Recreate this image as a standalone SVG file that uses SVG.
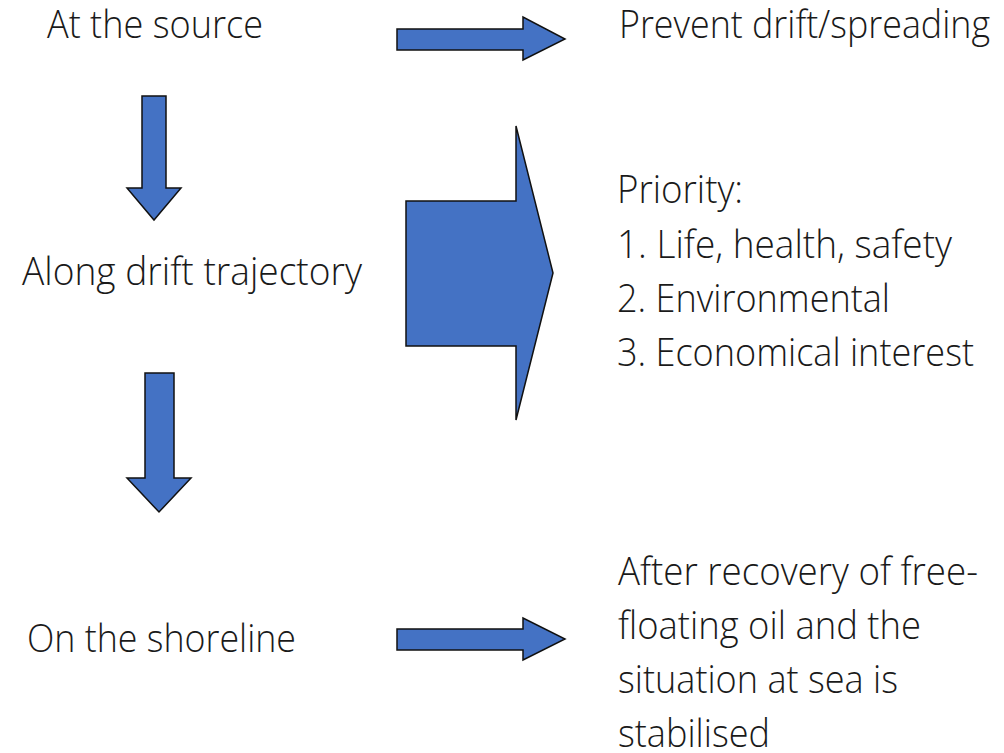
<svg xmlns="http://www.w3.org/2000/svg" width="1004" height="753" viewBox="0 0 1004 753">
<style>
.t{font-family:"Open Sans","Noto Sans","Liberation Sans",sans-serif;font-size:38px;font-weight:300;fill:#1a1a1a}
.a{fill:#4472C4;stroke:#111;stroke-width:1.5;stroke-linejoin:miter}
</style>
<rect width="1004" height="753" fill="#fff"/>
<g id="n-source"><text class="t" x="47" y="38" textLength="216" lengthAdjust="spacingAndGlyphs">At the source</text></g>
<g id="n-prevent"><text class="t" x="619" y="38" textLength="371" lengthAdjust="spacingAndGlyphs">Prevent drift/spreading</text></g>
<g id="n-drift"><text class="t" x="22" y="285" textLength="340" lengthAdjust="spacingAndGlyphs">Along drift trajectory</text></g>
<g id="n-priority">
<text class="t" x="617" y="203" textLength="126" lengthAdjust="spacingAndGlyphs">Priority:</text>
<text class="t" x="617" y="258" textLength="335" lengthAdjust="spacingAndGlyphs">1. Life, health, safety</text>
<text class="t" x="617" y="312" textLength="273" lengthAdjust="spacingAndGlyphs">2. Environmental</text>
<text class="t" x="617" y="366" textLength="357" lengthAdjust="spacingAndGlyphs">3. Economical interest</text>
</g>
<g id="n-shoreline"><text class="t" x="27" y="652" textLength="269" lengthAdjust="spacingAndGlyphs">On the shoreline</text></g>
<g id="n-after">
<text class="t" x="618" y="585" textLength="360" lengthAdjust="spacingAndGlyphs">After recovery of free-</text>
<text class="t" x="618" y="639" textLength="303" lengthAdjust="spacingAndGlyphs">floating oil and the</text>
<text class="t" x="618" y="693" textLength="280" lengthAdjust="spacingAndGlyphs">situation at sea is</text>
<text class="t" x="618" y="747" textLength="152" lengthAdjust="spacingAndGlyphs">stabilised</text>
</g>
<g id="connectors">
<polygon class="a" points="397,29 523,29 523,17 565,39 523,60 523,50 397,50"/>
<polygon class="a" points="406,201 516,201 516,126 553,273 516,420 516,346 406,346"/>
<polygon class="a" points="142,96 166,96 166,188 181,188 154,220 127,188 142,188"/>
<polygon class="a" points="145,373 174,373 174,478 191,478 159,512 127,478 145,478"/>
<polygon class="a" points="397,629 523,629 523,618 565,639 523,660 523,650 397,650"/>
</g>
</svg>
